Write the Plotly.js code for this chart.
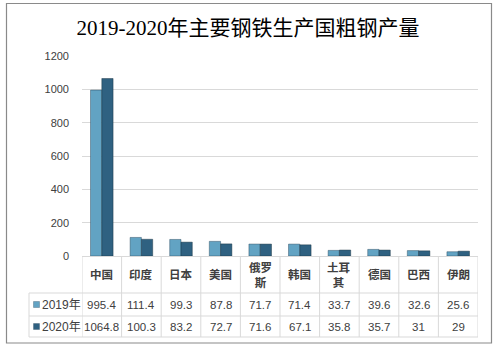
<!DOCTYPE html>
<html><head><meta charset="utf-8">
<script src="https://cdn.plot.ly/plotly-3.0.1.min.js"></script>
<style>body{margin:0;background:#fff}#c{width:497px;height:347px}</style>
</head><body><div id="c"></div>
<script>
const categories = ['中国','印度','日本','美国','俄罗斯','韩国','土耳其','德国','巴西','伊朗'];
const headerLabels = ['中国','印度','日本','美国','俄罗<br>斯','韩国','土耳<br>其','德国','巴西','伊朗'];
const series2019 = [995.4,111.4,99.3,87.8,71.7,71.4,33.7,39.6,32.6,25.6];
const series2020 = [1064.8,100.3,83.2,72.7,71.6,67.1,35.8,35.7,31,29];
const seriesNames = ['2019年','2020年'];
const yTicks = [0,200,400,600,800,1000,1200];

const W=497,H=347,L=82,R=478,T=56,B=256;
const px = X => (X-L)/(R-L);
const py = Y => (B-Y)/(B-T);
const c19='#62a3c3', c20='#2f6181';
const gridC='#d9d9d9', txtC='#404040';
const font='"Liberation Sans", "Noto Sans CJK SC", sans-serif';

const traces=[
 {type:'bar',x:categories,y:series2019,name:seriesNames[0],marker:{color:c19,line:{color:'rgba(40,70,90,0.55)',width:0.8}}},
 {type:'bar',x:categories,y:series2020,name:seriesNames[1],marker:{color:c20,line:{color:'rgba(20,45,60,0.55)',width:0.8}}}
];

const shapes=[];
const ann=[];
for(let i=0;i<=categories.length;i++){
  shapes.push({type:'line',xref:'x',yref:'paper',x0:i-0.5,x1:i-0.5,y0:py(256),y1:py(337),line:{color:gridC,width:1}});
}
shapes.push({type:'line',xref:'paper',yref:'paper',x0:px(29),x1:px(29),y0:py(293),y1:py(337),line:{color:gridC,width:1}});
[293,316,337].forEach(Y=>{
  shapes.push({type:'line',xref:'paper',yref:'paper',x0:px(29),x1:px(478),y0:py(Y),y1:py(Y),line:{color:gridC,width:1}});
});
[[c19,304.5],[c20,326.5]].forEach(([c,Y])=>{
  shapes.push({type:'rect',xref:'paper',yref:'paper',x0:px(33.5),x1:px(39.5),y0:py(Y+3),y1:py(Y-3),fillcolor:c,line:{color:'rgba(30,60,80,0.6)',width:0.5}});
});
shapes.push({type:'rect',xref:'paper',yref:'paper',x0:px(6.5),x1:px(491.5),y0:py(343),y1:py(3.5),line:{color:'#8a8a8a',width:1.2},layer:'below'});

categories.forEach((c,i)=>{
  ann.push({xref:'x',yref:'paper',x:i,y:py(274.5),text:'<b>'+headerLabels[i]+'</b>',showarrow:false,font:{family:font,size:11.5,color:txtC},xanchor:'center',yanchor:'middle'});
  ann.push({xref:'x',yref:'paper',x:i,y:py(304.5),text:String(series2019[i]),showarrow:false,font:{family:font,size:11.5,color:txtC},xanchor:'center',yanchor:'middle'});
  ann.push({xref:'x',yref:'paper',x:i,y:py(326.5),text:String(series2020[i]),showarrow:false,font:{family:font,size:11.5,color:txtC},xanchor:'center',yanchor:'middle'});
});
seriesNames.forEach((n,k)=>{
  ann.push({xref:'paper',yref:'paper',x:px(40),y:py(k?326.5:304.5),text:n,showarrow:false,font:{family:font,size:12,color:txtC},xanchor:'left',yanchor:'middle'});
});

const layout={
  width:W,height:H,
  margin:{l:L,r:W-R,t:T,b:H-B,pad:0},
  paper_bgcolor:'#fff',plot_bgcolor:'#fff',
  title:{text:'2019-2020年主要钢铁生产国粗钢产量',x:0.499,xanchor:'center',y:1-28/H,yanchor:'middle',font:{family:'"Liberation Serif", "Noto Sans CJK SC", serif',size:21,color:'#000'}},
  showlegend:false,
  barmode:'group',bargap:0.43,bargroupgap:0,
  xaxis:{type:'category',showticklabels:false,showgrid:false,zeroline:false,showline:true,linecolor:gridC,linewidth:1,ticks:'',range:[-0.5,9.5],fixedrange:true},
  yaxis:{range:[0,1200],tickvals:yTicks,ticktext:yTicks.map(String),showgrid:true,gridcolor:gridC,gridwidth:1,zeroline:false,showline:false,ticks:'',ticklabelstandoff:12,tickfont:{family:font,size:11,color:txtC},fixedrange:true},
  shapes:shapes,annotations:ann,
  font:{family:font}
};
Plotly.newPlot('c',traces,layout,{displayModeBar:false,staticPlot:true});
</script></body></html>
